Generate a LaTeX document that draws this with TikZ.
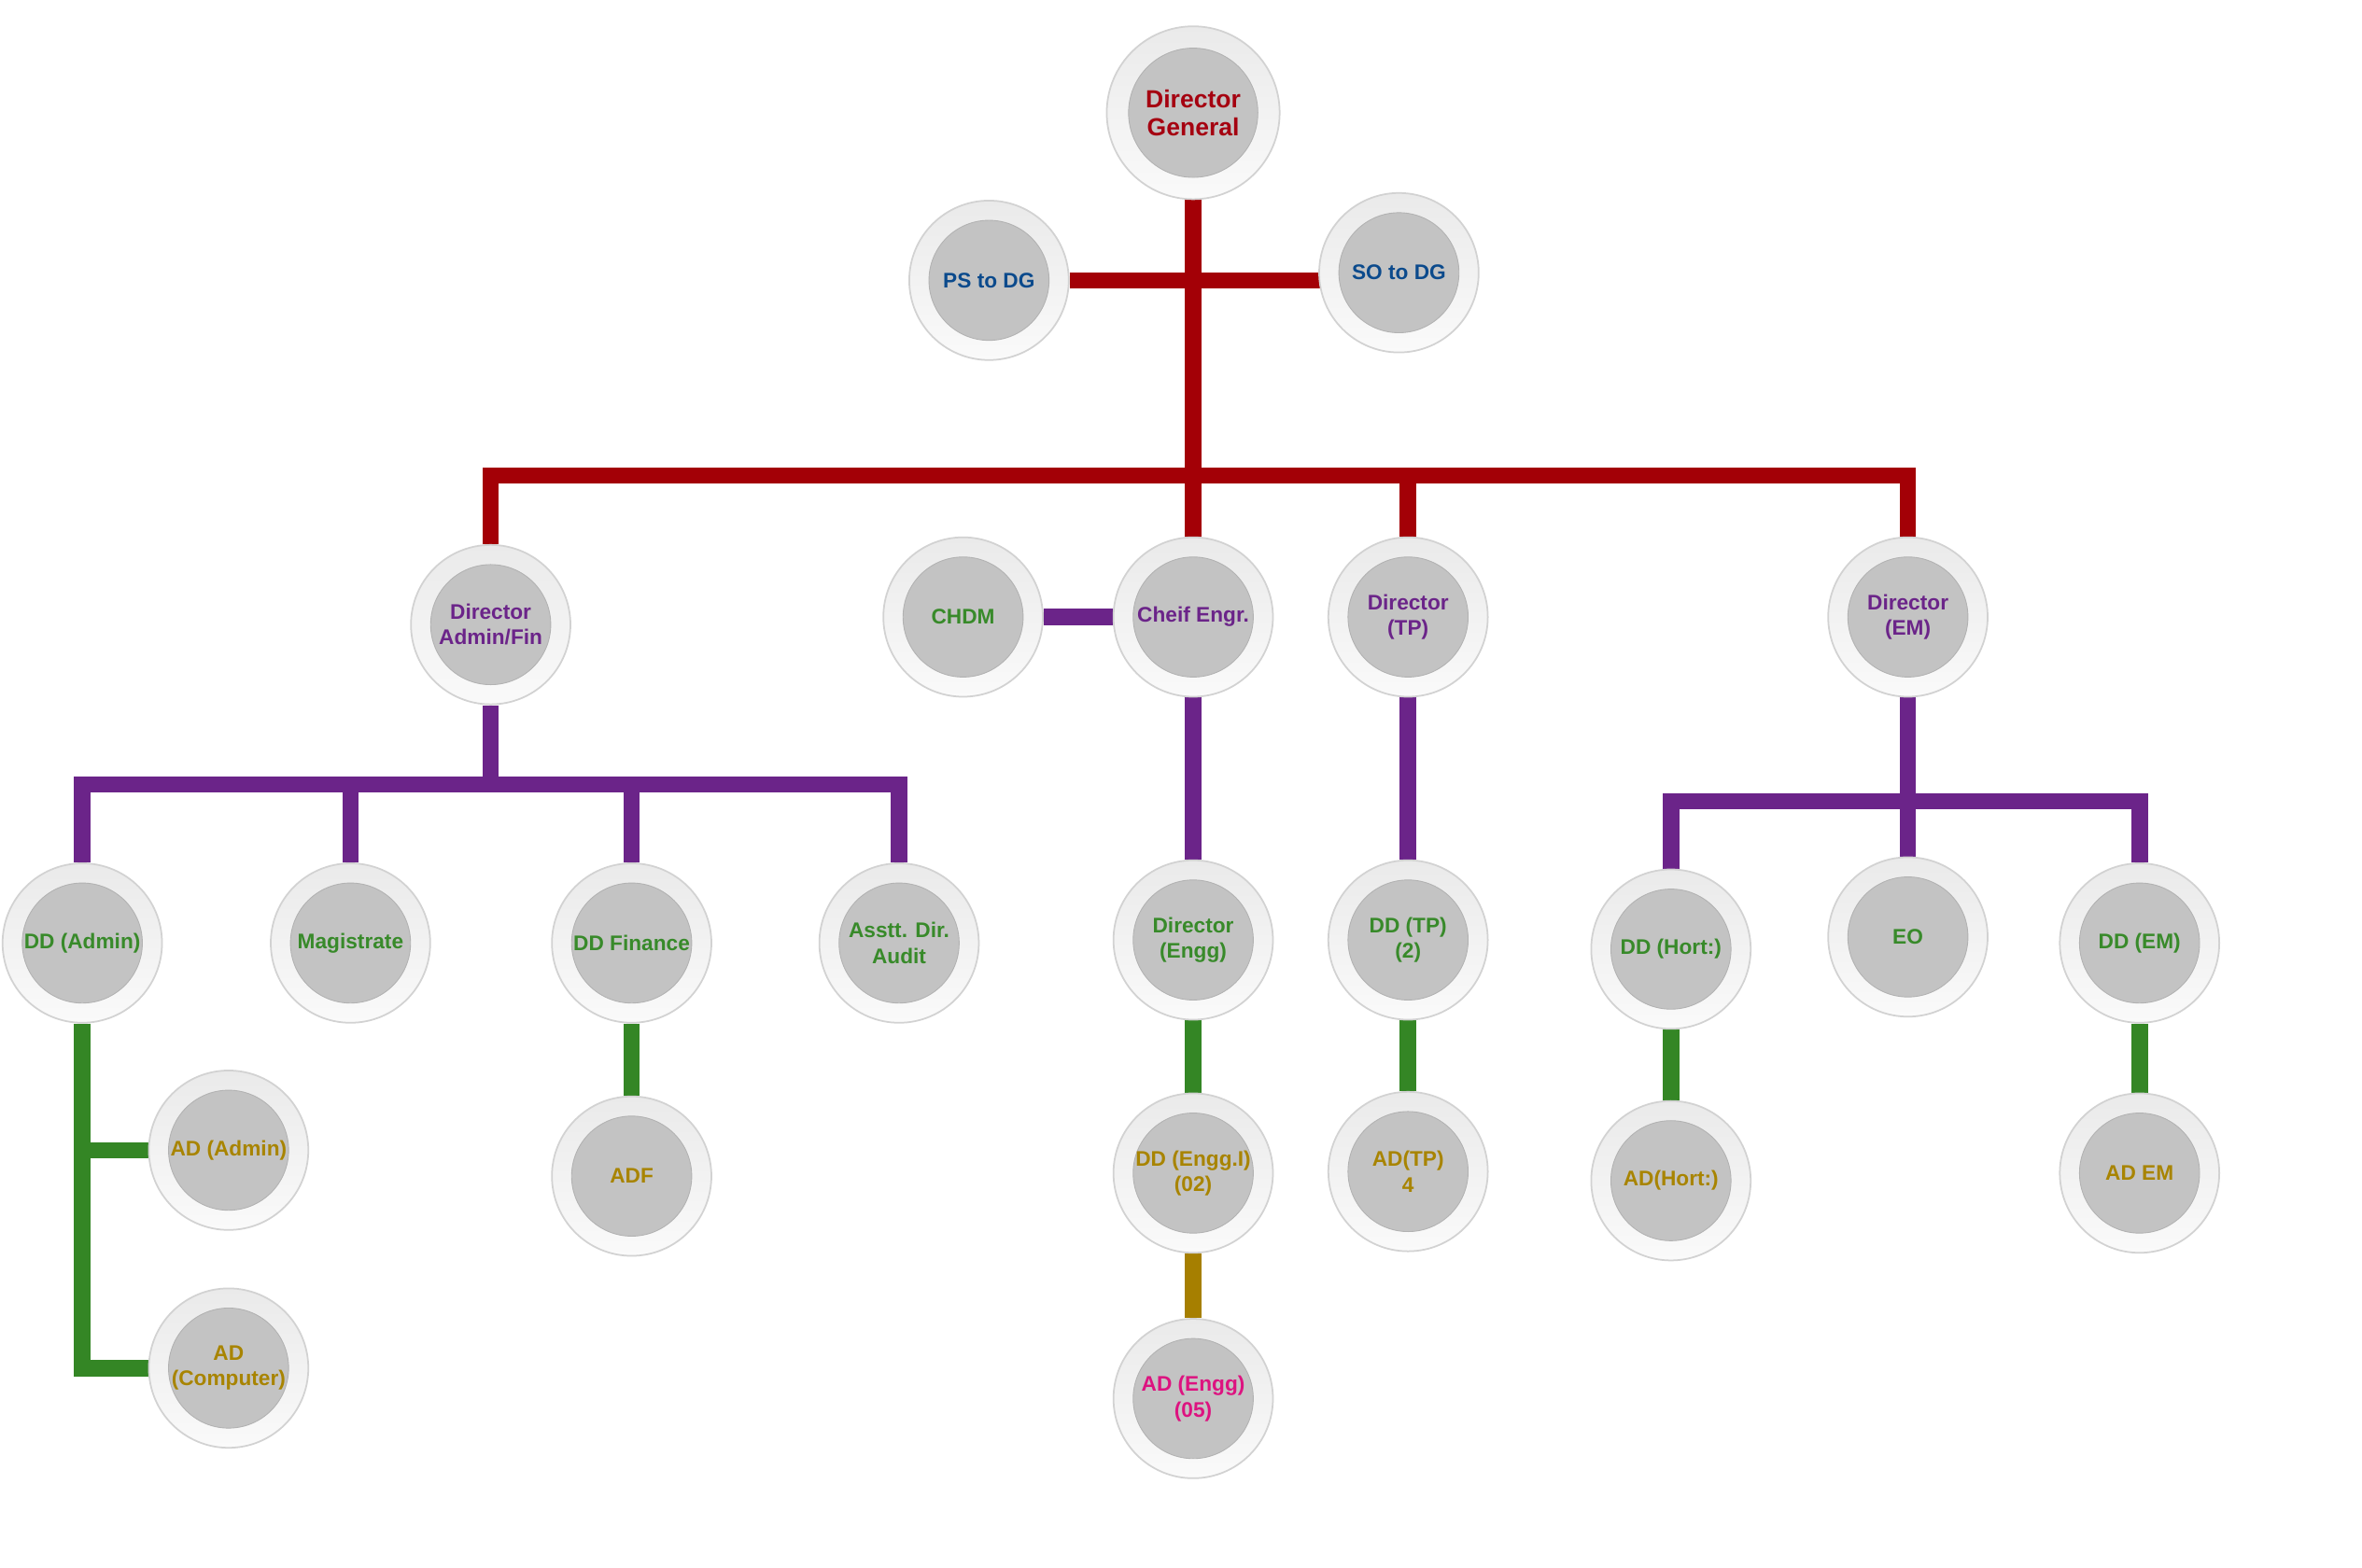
\documentclass[tikz,border=0pt]{standalone}
\usepackage{fontspec}
\setmainfont{Liberation Sans}
\usetikzlibrary{backgrounds}
\definecolor{cred}{RGB}{163,0,6}
\definecolor{cpurple}{RGB}{107,36,137}
\definecolor{cgreen}{RGB}{52,134,37}
\definecolor{colive}{RGB}{166,127,0}
\definecolor{tred}{RGB}{165,0,16}
\definecolor{tblue}{RGB}{11,74,140}
\definecolor{tgreen}{RGB}{56,138,42}
\definecolor{tolive}{RGB}{168,132,0}
\definecolor{tmag}{RGB}{221,19,128}
\definecolor{ringtop}{RGB}{234,234,234}
\definecolor{ringbot}{RGB}{250,250,250}
\definecolor{ringline}{RGB}{210,210,210}
\definecolor{innergrey}{RGB}{195,195,195}
\definecolor{innerline}{RGB}{178,178,178}
\tikzset{
  unit/.style={circle, inner sep=0pt, minimum size=48.6pt, draw=ringline, line width=0.5pt,
    top color=ringtop, bottom color=ringbot, align=center,
    font=\bfseries\fontsize{6.45}{7.8}\selectfont,
    path picture={\filldraw[fill=innergrey, draw=innerline, line width=0.25pt]
      (path picture bounding box.center) circle (18.3pt);}},
  bigunit/.style={unit, minimum size=52.7pt,
    font=\bfseries\fontsize{7.55}{8.6}\selectfont,
    path picture={\filldraw[fill=innergrey, draw=innerline, line width=0.25pt]
      (path picture bounding box.center) circle (19.7pt);}},
  conn/.style={line width=5pt},
}
\begin{document}
\begin{tikzpicture}[x=0.16323mm, y=-0.16323mm]
\useasboundingbox (0,0) rectangle (1550,1029.2);
% level 0-1
\node[bigunit, text=tred] (dg) at (783,74) {Director\\General};
\node[unit, text=tblue] (ps) at (649,184) {PS to DG};
\node[unit, text=tblue] (so) at (918,179) {SO to DG};
% level 2
\node[unit, text=cpurple] (daf) at (322,410) {Director\\Admin/Fin};
\node[unit, text=tgreen] (chdm) at (632,405) {CHDM};
\node[unit, text=cpurple] (ce) at (783,405) {Cheif Engr.};
\node[unit, text=cpurple] (tp) at (924,405) {Director\\(TP)};
\node[unit, text=cpurple] (dem) at (1252,405) {Director\\(EM)};
% level 3
\node[unit, text=tgreen] (ddadm) at (54,619) {DD (Admin)};
\node[unit, text=tgreen] (mag) at (230,619) {Magistrate};
\node[unit, text=tgreen] (ddfin) at (414.5,619) {DD Finance};
\node[unit, text=tgreen] (aud) at (590,619) {Asstt. Dir.\\Audit};
\node[unit, text=tgreen] (de) at (783,617) {Director\\(Engg)};
\node[unit, text=tgreen] (ddtp) at (924,617) {DD (TP)\\(2)};
\node[unit, text=tgreen] (ddh) at (1096.5,623) {DD (Hort:)};
\node[unit, text=tgreen] (eo) at (1252,615) {EO};
\node[unit, text=tgreen] (ddem) at (1404,619) {DD (EM)};
% level 4
\node[unit, text=tolive] (ada) at (150,755) {AD (Admin)};
\node[unit, text=tolive] (adc) at (150,898) {AD\\(Computer)};
\node[unit, text=tolive] (adf) at (414.5,772) {ADF};
\node[unit, text=tolive] (dde) at (783,770) {DD (Engg.I)\\(02)};
\node[unit, text=tolive] (adtp) at (924,769) {AD(TP)\\4};
\node[unit, text=tolive] (adh) at (1096.5,775) {AD(Hort:)};
\node[unit, text=tolive] (adem) at (1404,770) {AD EM};
% level 5
\node[unit, text=tmag] (ade) at (783,918) {AD (Engg)\\(05)};

\coordinate (rbus) at (783,312);
\coordinate (pbl) at (322,515);
\coordinate (pbr) at (1252,526);
\begin{scope}[on background layer]
  % red
  \draw[conn, cred] (dg) -- (ce);
  \draw[conn, cred] (ps) -- (ps -| so);
  \draw[conn, cred] (daf) -- (daf |- rbus) -- (dem |- rbus) -- (dem);
  \draw[conn, cred] (tp |- rbus) -- (tp);
  % purple
  \draw[conn, cpurple] (daf) -- (pbl);
  \draw[conn, cpurple] (ddadm) -- (ddadm |- pbl) -- (aud |- pbl) -- (aud);
  \draw[conn, cpurple] (mag |- pbl) -- (mag);
  \draw[conn, cpurple] (ddfin |- pbl) -- (ddfin);
  \draw[conn, cpurple] (chdm) -- (chdm -| ce);
  \draw[conn, cpurple] (ce) -- (de);
  \draw[conn, cpurple] (tp) -- (ddtp);
  \draw[conn, cpurple] (dem) -- (eo);
  \draw[conn, cpurple] (ddh) -- (ddh |- pbr) -- (ddem |- pbr) -- (ddem);
  % green
  \draw[conn, cgreen] (ddadm) -- (ddadm |- adc) -- (adc);
  \draw[conn, cgreen] (ddadm |- ada) -- (ada);
  \draw[conn, cgreen] (ddfin) -- (adf);
  \draw[conn, cgreen] (de) -- (dde);
  \draw[conn, cgreen] (ddtp) -- (adtp);
  \draw[conn, cgreen] (ddh) -- (adh);
  \draw[conn, cgreen] (ddem) -- (adem);
  % olive
  \draw[conn, colive] (dde) -- (ade);
\end{scope}
\end{tikzpicture}
\end{document}
